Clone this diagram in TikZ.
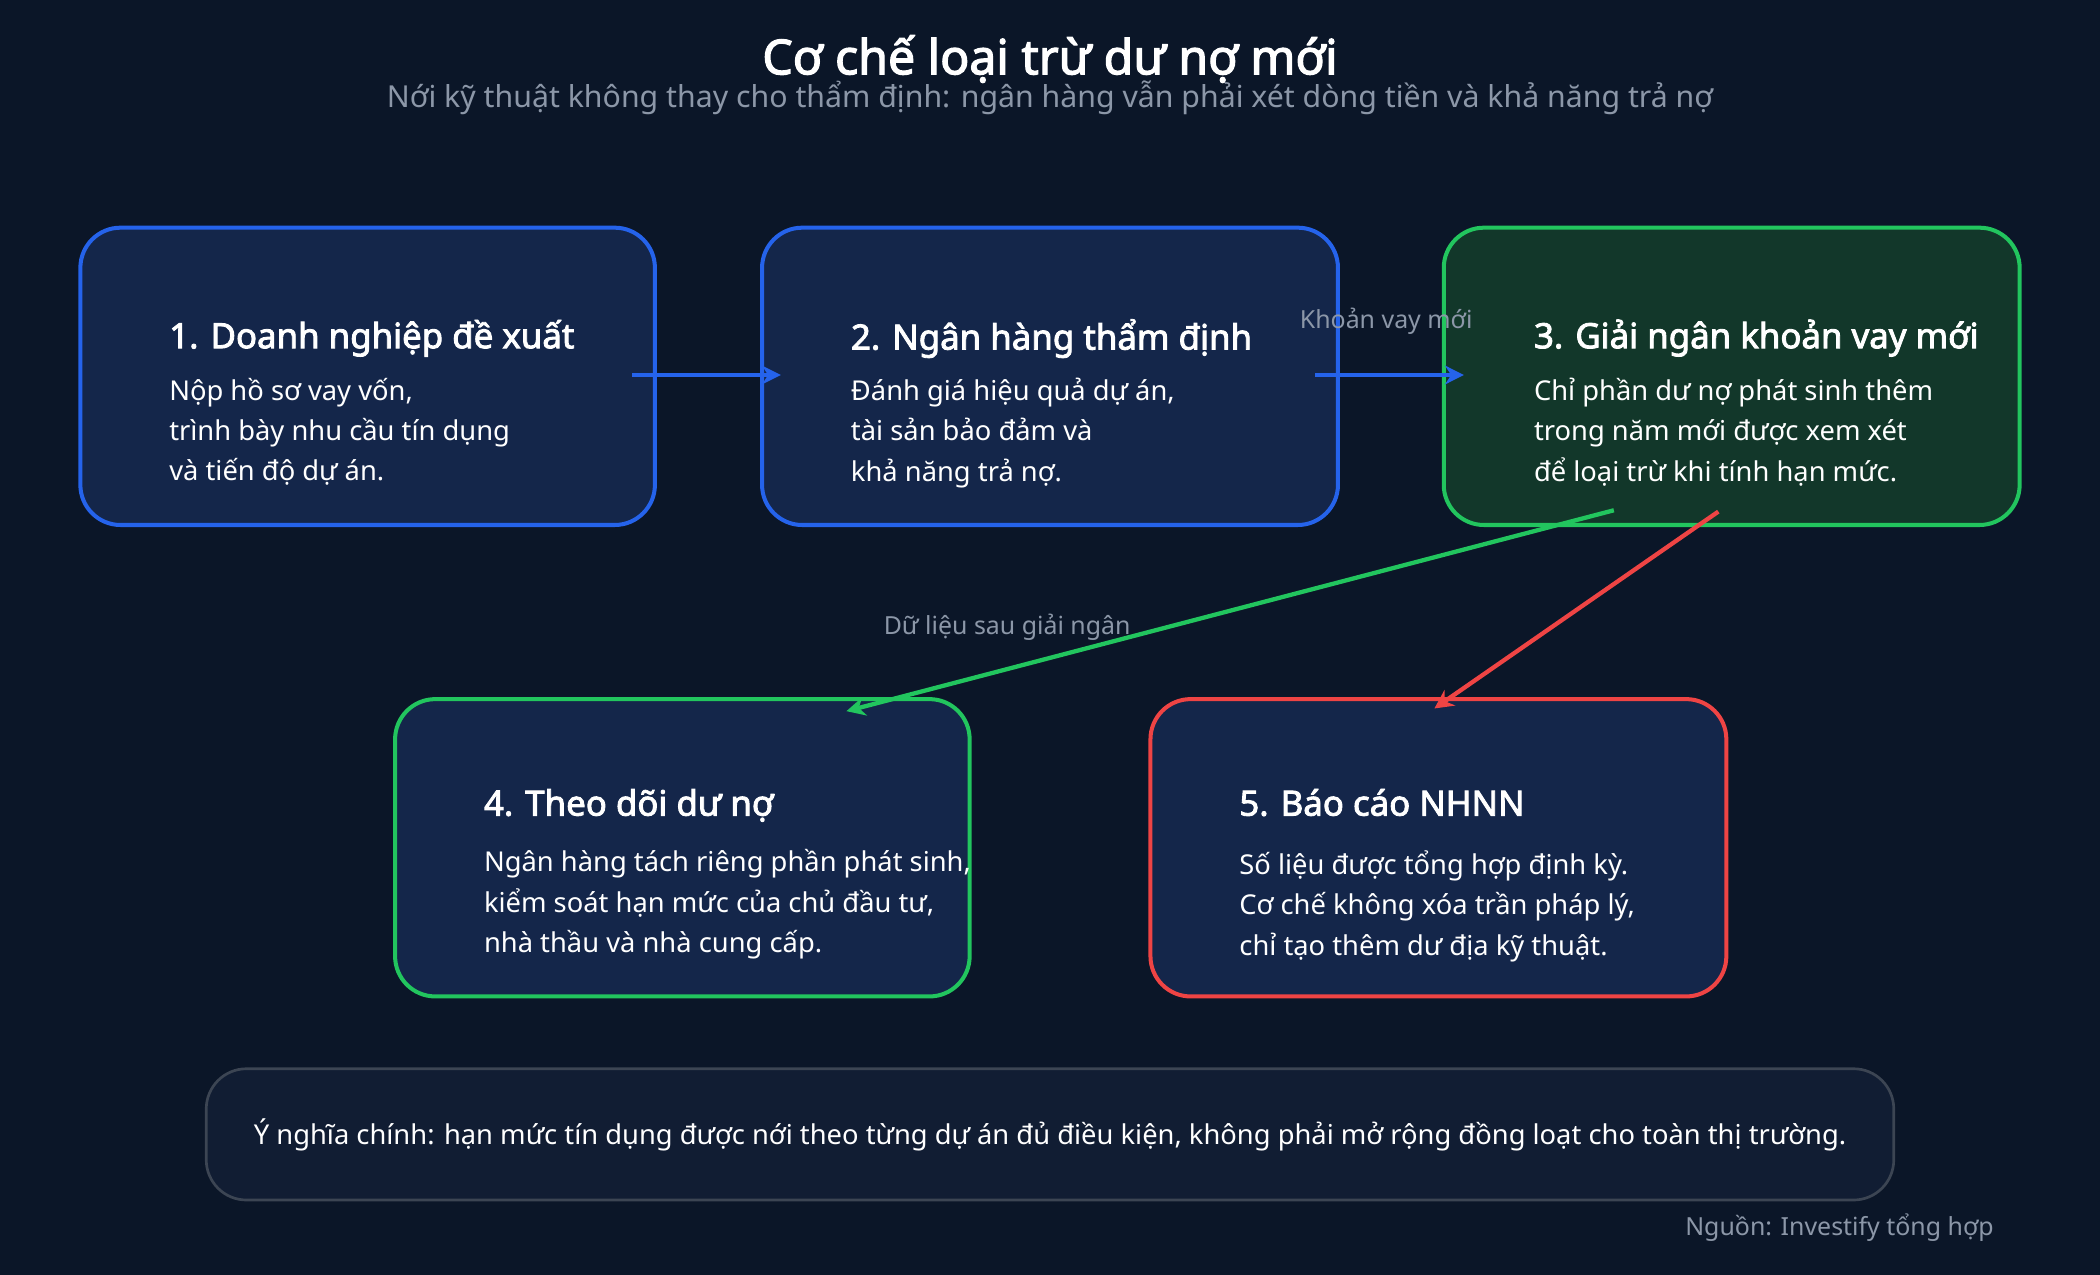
\documentclass[tikz,border=0pt]{standalone}
\usepackage{fontspec}
\setmainfont{Noto Sans}[BoldFont={Noto Sans},BoldFeatures={FakeBold=2.5}]
\usetikzlibrary{arrows.meta}
\definecolor{bg}{HTML}{0B1628}
\definecolor{boxf}{HTML}{14264A}
\definecolor{greenf}{HTML}{12372A}
\definecolor{noteF}{HTML}{111D33}
\definecolor{blueC}{HTML}{2563EB}
\definecolor{greenC}{HTML}{22C55E}
\definecolor{redC}{HTML}{EF4444}
\definecolor{grayT}{HTML}{8C97A8}
\begin{document}
\begin{tikzpicture}[x=0.5pt,y=-0.5pt,
 box/.style={draw=#1,line width=1.5pt,rounded corners=15pt,fill=boxf},
 ttl/.style={anchor=base west,inner sep=0pt,text=white,font=\fontsize{13}{16}\selectfont\bfseries},
 body/.style={anchor=north west,inner sep=0pt,text=white,align=left,font=\fontsize{10.2}{15}\selectfont},
 lbl/.style={text=grayT,font=\fontsize{9.3}{11}\selectfont},
 arr/.style={line width=1.6pt,draw=#1,-{Stealth[length=7pt,width=7pt]}}]
\fill[bg] (0,0) rectangle (1568,952);
\node[text=white,font=\fontsize{18}{20}\selectfont\bfseries] (title) at (784,44) {Cơ chế loại trừ dư nợ mới};
\node[text=grayT,font=\fontsize{11.3}{13}\selectfont] (sub) at (784,73) {Nới kỹ thuật không thay cho thẩm định: ngân hàng vẫn phải xét dòng tiền và khả năng trả nợ};
\draw[box=blueC] (60,170) rectangle (489,392);
\draw[box=blueC] (569,170) rectangle (999,392);
\draw[box=greenC,fill=greenf] (1078,170) rectangle (1508,392);
\draw[box=greenC] (295,522) rectangle (724,744);
\draw[box=redC] (859,522) rectangle (1289,744);
\draw[draw=white!20!bg,line width=1pt,rounded corners=15pt,fill=noteF] (154,798) rectangle (1414,896);
\node[ttl] (t1) at (126,260) {1. Doanh nghiệp đề xuất};
\node[body] (b1) at (126,282) {Nộp hồ sơ vay vốn,\\trình bày nhu cầu tín dụng\\và tiến độ dự án.};
\node[ttl] (t2) at (635,261) {2. Ngân hàng thẩm định};
\node[body] (b2) at (635,282) {Đánh giá hiệu quả dự án,\\tài sản bảo đảm và\\khả năng trả nợ.};
\node[ttl] (t3) at (1145,260) {3. Giải ngân khoản vay mới};
\node[body] (b3) at (1145,282) {Chỉ phần dư nợ phát sinh thêm\\trong năm mới được xem xét\\để loại trừ khi tính hạn mức.};
\node[ttl] (t4) at (361,609) {4. Theo dõi dư nợ};
\node[body] (b4) at (361,634) {Ngân hàng tách riêng phần phát sinh,\\kiểm soát hạn mức của chủ đầu tư,\\nhà thầu và nhà cung cấp.};
\node[ttl] (t5) at (925,609) {5. Báo cáo NHNN};
\node[body] (b5) at (925,635) {Số liệu được tổng hợp định kỳ.\\Cơ chế không xóa trần pháp lý,\\chỉ tạo thêm dư địa kỹ thuật.};
\node[text=white,font=\fontsize{10.2}{12}\selectfont] (note) at (784,847) {Ý nghĩa chính: hạn mức tín dụng được nới theo từng dự án đủ điều kiện, không phải mở rộng đồng loạt cho toàn thị trường.};
\node[lbl,anchor=east,inner sep=0pt] (src) at (1489,917) {Nguồn: Investify tổng hợp};
\coordinate (a1s) at (472,280); \coordinate (a1e) at (583,280);
\coordinate (a2s) at (982,280); \coordinate (a2e) at (1093,280);
\coordinate (a3s) at (1205,381); \coordinate (a3e) at (632,531);
\coordinate (a4s) at (1283,382); \coordinate (a4e) at (1071,529);
\draw[arr=blueC] (a1s) -- (a1e);
\draw[arr=blueC] (a2s) -- (a2e);
\draw[arr=greenC] (a3s) -- (a3e);
\draw[arr=redC] (a4s) -- (a4e);
\node[lbl] (l1) at (1035,240) {Khoản vay mới};
\node[lbl] (l2) at (752,468) {Dữ liệu sau giải ngân};
\end{tikzpicture}
\end{document}
